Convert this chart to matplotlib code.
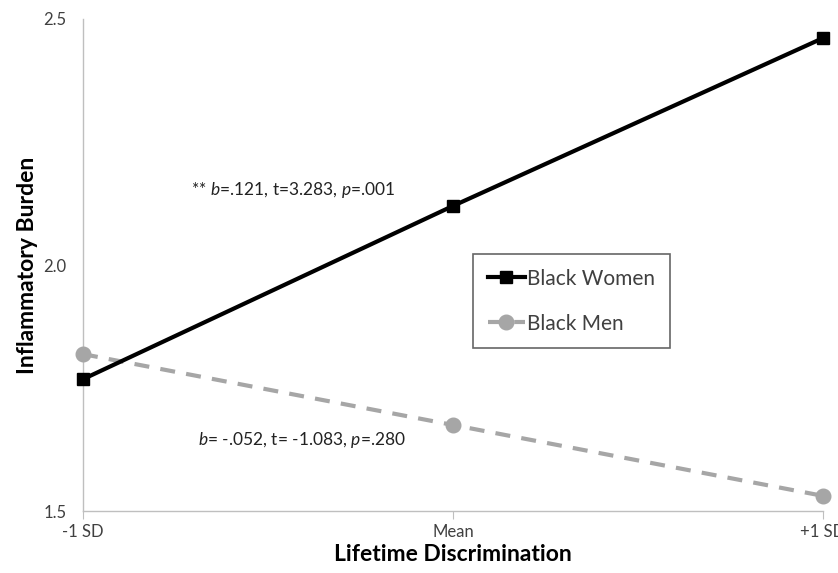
import matplotlib.pyplot as plt

# === Data ===
categories = ["-1 SD", "Mean", "+1 SD"]
women = [1.768, 2.12, 2.461]
men = [1.819, 1.675, 1.531]
yticks = [1.5, 2.0, 2.5]
ytick_labels = ["1.5", "2.0", "2.5"]

plt.rcParams['font.family'] = ['Lato', 'DejaVu Sans']
plt.rcParams['mathtext.fontset'] = 'custom'
plt.rcParams['mathtext.rm'] = 'Lato'
plt.rcParams['mathtext.it'] = 'Lato:italic'

fig = plt.figure(figsize=(8.38, 5.73), dpi=100)
ax = fig.add_axes([0.099, 0.108, 0.883, 0.859])

x = list(range(len(categories)))
ax.plot(x, women, color='black', lw=3, marker='s', ms=9,
        label='Black Women', clip_on=False, zorder=4)
ax.plot(x, men, color='#a6a6a6', lw=3, ls=(0, (3.6, 2.7)), marker='o', ms=10.5,
        label='Black Men', clip_on=False, zorder=3)

ax.set_xlim(0, 2)
ax.set_ylim(1.5, 2.5)
ax.set_xticks(x)
ax.set_xticklabels(categories)
ax.set_yticks(yticks)
ax.set_yticklabels(ytick_labels)

for side in ['top', 'right']:
    ax.spines[side].set_visible(False)
for side in ['left', 'bottom']:
    ax.spines[side].set_color('#bfbfbf')
    ax.spines[side].set_linewidth(1)
ax.tick_params(axis='x', length=6, color='#bfbfbf', labelsize=12, pad=3,
               labelcolor='#404040')
ax.tick_params(axis='y', length=0, labelsize=12, pad=12, labelcolor='#404040')

ax.set_xlabel("Lifetime Discrimination", fontsize=16.5, fontweight='bold', labelpad=3)
ax.set_ylabel("Inflammatory Burden", fontsize=16.5, fontweight='bold', labelpad=4)

ax.text(0.568, 2.153, r"** $\mathit{b}$=.121, t=3.283, $\mathit{p}$=.001",
        fontsize=12.5, ha='center', va='center', color='#222222')
ax.text(0.592, 1.645, r"$\mathit{b}$= -.052, t= -1.083, $\mathit{p}$=.280",
        fontsize=12.5, ha='center', va='center', color='#222222')

leg = ax.legend(loc='upper left', bbox_to_anchor=(0.527, 0.522), borderaxespad=0,
                fontsize=15, frameon=True, fancybox=False, handlelength=1.8,
                handletextpad=0.1, borderpad=0.7, labelspacing=1.2)
leg.get_frame().set_edgecolor('#404040')
leg.get_frame().set_linewidth(1.2)
for t in leg.get_texts():
    t.set_color('#404040')

plt.savefig("out.png", dpi=100)
